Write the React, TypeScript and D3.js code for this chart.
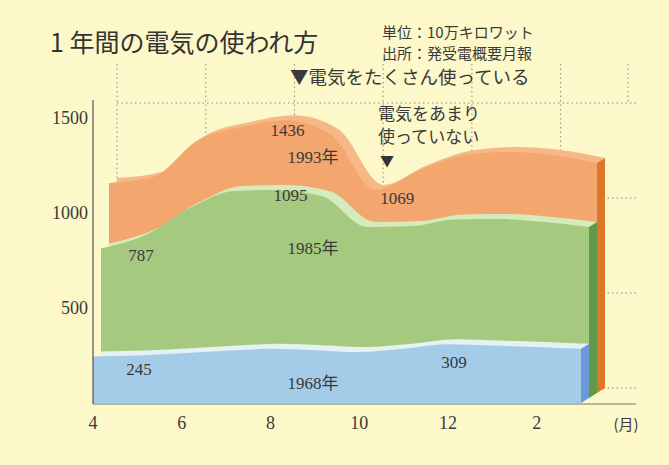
import React, { useRef, useEffect } from 'react';
import { select, scaleLinear, area, curveMonotoneX } from 'd3';

const W = 669;
const H = 465;

// months shown, April to March
const months = [4, 5, 6, 7, 8, 9, 10, 11, 12, 1, 2, 3];
const tickMonths = [4, 6, 8, 10, 12, 2];
const yTicks = [500, 1000, 1500];
const gridValues = [0, 500, 1000, 1500];

// 10万kW
const values1968 = [245, 250, 262, 275, 285, 278, 268, 285, 309, 302, 295, 285];
const values1985 = [787, 858, 1000, 1090, 1095, 1060, 900, 905, 940, 942, 926, 900];
const values1993 = [1105, 1137, 1330, 1400, 1436, 1360, 1069, 1174, 1250, 1268, 1253, 1210];

const serif = "'Liberation Serif', 'Noto Sans CJK JP', serif";
const gothic = "'Noto Sans CJK JP', sans-serif";
const textColor = '#3a3a3a';

const depth = { dx: 8, dy: -5 };

const layers = [
  { key: '1993', values: values1993, ox: 16, oy: -10, face: '#f3a66e', top: '#f6b887', side: '#df772b' },
  { key: '1985', values: values1985, ox: 8, oy: -5, face: '#a6c980', top: '#d6ebbb', side: '#5e9a4a' },
  { key: '1968', values: values1968, ox: 0, oy: 0, face: '#a4cbe8', top: '#e4f2f2', side: '#6b98d8' },
];

const App: React.FC = () => {
  const svgRef = useRef<SVGSVGElement>(null);

  useEffect(() => {
    const svg = select(svgRef.current as any);
    svg.selectAll('*').remove();

    const x = scaleLinear().domain([0, months.length - 1]).range([93, 581]);
    const y = scaleLinear().domain([0, 1500]).range([403, 118]);

    svg.append('rect').attr('width', W).attr('height', H).attr('fill', '#fcf8c9');

    // back wall grid (dotted)
    const back = { dx: 24, dy: -15 };
    const grid = svg.append('g').attr('stroke', '#8a8a80').attr('stroke-dasharray', '1.5,3').attr('stroke-width', 1);
    gridValues.forEach(v => {
      grid.append('line')
        .attr('x1', x(0) + back.dx).attr('x2', 636)
        .attr('y1', y(v) + back.dy).attr('y2', y(v) + back.dy);
    });
    tickMonths.forEach(m => {
      const i = months.indexOf(m);
      grid.append('line')
        .attr('x1', x(i) + back.dx).attr('x2', x(i) + back.dx)
        .attr('y1', 64).attr('y2', y(0) + back.dy);
    });
    grid.append('line').attr('x1', 628).attr('x2', 628).attr('y1', 64).attr('y2', y(1500) + back.dy);

    // 3D ribbons, back to front
    layers.forEach(l => {
      const g = svg.append('g');
      const last = l.values.length - 1;
      const topArea = area<number>()
        .x((_, i) => x(i) + l.ox + depth.dx)
        .y0(y(0) + l.oy + depth.dy)
        .y1(d => y(d) + l.oy + depth.dy)
        .curve(curveMonotoneX);
      const faceArea = area<number>()
        .x((_, i) => x(i) + l.ox)
        .y0(y(0) + l.oy)
        .y1(d => y(d) + l.oy)
        .curve(curveMonotoneX);
      g.append('path').datum(l.values).attr('d', topArea as any).attr('fill', l.top);
      const xe = x(last) + l.ox;
      const pts = [
        [xe, y(l.values[last]) + l.oy],
        [xe + depth.dx, y(l.values[last]) + l.oy + depth.dy],
        [xe + depth.dx, y(0) + l.oy + depth.dy],
        [xe, y(0) + l.oy],
      ];
      g.append('polygon').attr('points', pts.map(p => p.join(',')).join(' ')).attr('fill', l.side);
      g.append('path').datum(l.values).attr('d', faceArea as any).attr('fill', l.face);
    });

    // axes
    svg.append('line').attr('x1', 93).attr('x2', 93).attr('y1', 100).attr('y2', 404)
      .attr('stroke', '#555').attr('stroke-width', 1.2);
    svg.append('line').attr('x1', 93).attr('x2', 636).attr('y1', 404).attr('y2', 404)
      .attr('stroke', '#777').attr('stroke-width', 1.2);

    yTicks.forEach(v => {
      svg.append('text').attr('x', 88).attr('y', y(v) + 6).attr('text-anchor', 'end')
        .attr('font-family', serif).attr('font-size', 18).attr('fill', textColor).text(v);
    });
    tickMonths.forEach(m => {
      const i = months.indexOf(m);
      svg.append('text').attr('x', x(i)).attr('y', 429).attr('text-anchor', 'middle')
        .attr('font-family', serif).attr('font-size', 18).attr('fill', textColor).text(m);
    });
    svg.append('text').attr('x', 626).attr('y', 430).attr('text-anchor', 'middle')
      .attr('font-family', gothic).attr('font-size', 15).attr('fill', textColor).text('(月)');

    // value labels
    const lbl = (t: string, cx: number, cy: number) =>
      svg.append('text').attr('x', cx).attr('y', cy + 6).attr('text-anchor', 'middle')
        .attr('font-family', serif).attr('font-size', 17).attr('fill', textColor).text(t);
    const idx = (m: number) => months.indexOf(m);
    lbl(String(values1993[idx(8)]), x(idx(8)) + 17, 130);
    lbl('1993年', 313, 157);
    lbl(String(values1985[idx(8)]), x(idx(8)) + 20, 195);
    lbl('1985年', 313, 248);
    lbl(String(values1993[idx(10)]), x(idx(10)) + 38, 198);
    lbl(String(values1985[idx(4)]), x(idx(4)) + 48, 255);
    lbl(String(values1968[idx(4)]), x(idx(4)) + 46, 369);
    lbl('1968年', 313, 383);
    lbl(String(values1968[idx(12)]), x(idx(12)) + 6, 362);

    // title & notes
    svg.append('text').attr('x', 50).attr('y', 52).attr('font-family', gothic).attr('font-size', 25)
      .attr('font-weight', 400).attr('fill', '#333').text('1 年間の電気の使われ方');
    svg.append('text').attr('x', 382).attr('y', 38).attr('font-family', gothic).attr('font-size', 15)
      .attr('fill', textColor).text('単位：10万キロワット');
    svg.append('text').attr('x', 382).attr('y', 59).attr('font-family', gothic).attr('font-size', 15)
      .attr('fill', textColor).text('出所：発受電概要月報');
    svg.append('text').attr('x', 290).attr('y', 84).attr('font-family', gothic).attr('font-size', 18.5)
      .attr('fill', textColor).text('▼電気をたくさん使っている');
    svg.append('text').attr('x', 378).attr('y', 120).attr('font-family', gothic).attr('font-size', 17)
      .attr('fill', textColor).text('電気をあまり');
    svg.append('text').attr('x', 378).attr('y', 143).attr('font-family', gothic).attr('font-size', 17)
      .attr('fill', textColor).text('使っていない');
    svg.append('text').attr('x', 380).attr('y', 166).attr('font-family', gothic).attr('font-size', 14)
      .attr('fill', '#333').text('▼');
  }, []);

  return (
    <svg
      ref={svgRef}
      width={W}
      height={H}
      style={{ position: 'absolute', left: 0, top: 0 }}
      role="img"
    ></svg>
  );
};

export default App;
